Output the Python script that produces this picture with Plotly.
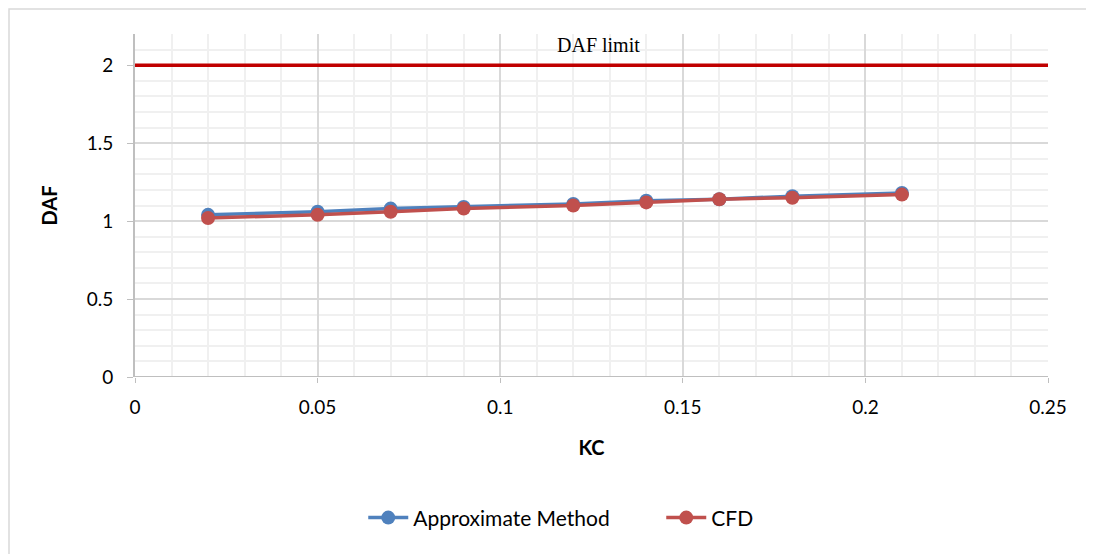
import plotly.graph_objects as go

kc = [0.02, 0.05, 0.07, 0.09, 0.12, 0.14, 0.16, 0.18, 0.21]
approx = [1.04, 1.06, 1.08, 1.09, 1.11, 1.13, 1.14, 1.16, 1.18]
cfd = [1.02, 1.04, 1.06, 1.08, 1.10, 1.12, 1.14, 1.15, 1.17]
limit_x = [0, 0.25]
limit_y = [2, 2]

fig = go.Figure()
fig.add_trace(go.Scatter(x=limit_x, y=limit_y, mode="lines",
                         line=dict(color="#C00000", width=3.5), showlegend=False, hoverinfo="skip"))
fig.add_trace(go.Scatter(x=kc, y=approx, mode="lines+markers", name="Approximate Method",
                         line=dict(color="#4F81BD", width=3.5), marker=dict(size=14, color="#4F81BD")))
fig.add_trace(go.Scatter(x=kc, y=cfd, mode="lines+markers", name="CFD",
                         line=dict(color="#C0504D", width=3.5), marker=dict(size=14, color="#C0504D")))

fig.add_annotation(x=0.127, y=2.0, yshift=20, text="DAF limit", showarrow=False,
                   font=dict(family="Liberation Serif", size=20, color="black"))

fig.update_xaxes(range=[0, 0.25], tickvals=[0, 0.05, 0.1, 0.15, 0.2, 0.25],
                 ticktext=["0", "0.05", "0.1", "0.15", "0.2", "0.25"],
                 showgrid=True, gridcolor="#D9D9D9", gridwidth=1.5,
                 minor=dict(dtick=0.01, showgrid=True, gridcolor="#F0F0F0", gridwidth=1.5),
                 zeroline=False, showline=False,
                 ticks="outside", ticklen=5, tickcolor="#BFBFBF", ticklabelstandoff=8,
                 title=dict(text="<b>KC</b>", font=dict(size=20, color="black"), standoff=24),
                 tickfont=dict(size=19, color="black"), automargin=False)
fig.update_yaxes(range=[0, 2.2], tickvals=[0, 0.5, 1, 1.5, 2], ticktext=["0", "0.5", "1", "1.5", "2"],
                 showgrid=True, gridcolor="#D9D9D9", gridwidth=1.5,
                 minor=dict(dtick=0.1, showgrid=True, gridcolor="#F0F0F0", gridwidth=1.5),
                 zeroline=False, showline=True, linecolor="#BFBFBF", linewidth=2,
                 ticks="outside", ticklen=6, tickcolor="#BFBFBF", ticklabelstandoff=10,
                 title=dict(text="<b>DAF</b>", font=dict(size=20, color="black"), standoff=24),
                 tickfont=dict(size=19, color="black"), automargin=False)

fig.add_shape(type="line", xref="paper", yref="y", x0=0, x1=1, y0=0, y1=0,
              line=dict(color="#BFBFBF", width=2))
fig.add_shape(type="rect", xref="paper", yref="paper", x0=-0.138, x1=1.2, y0=-0.8, y1=1.0729,
              line=dict(color="#D9D9D9", width=1.5))

fig.update_layout(width=1086, height=546, margin=dict(l=127, r=46, t=26, b=177),
                  plot_bgcolor="white", paper_bgcolor="white",
                  font=dict(family="Lato", size=19, color="black"),
                  legend=dict(orientation="h", x=0.25, xanchor="left", y=-0.411, yanchor="middle",
                              font=dict(size=21), itemwidth=40, entrywidth=243))

fig.write_html("out.html")
